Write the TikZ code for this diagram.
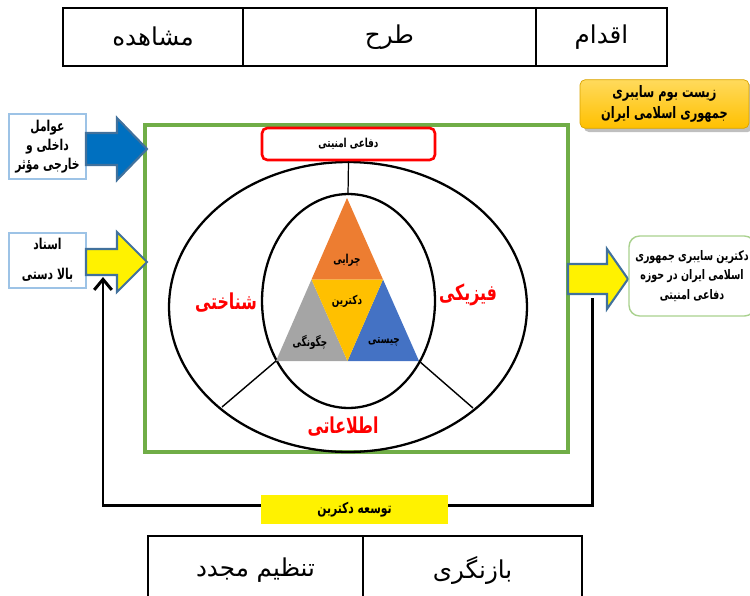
\documentclass[tikz,border=0pt]{standalone}
\usepackage{fontspec}
\usetikzlibrary{arrows.meta,shadows}
\TeXXeTstate=1
\newfontfamily\farsi[Script=Arabic]{DejaVu Sans}
\newfontfamily\farsinarrow[Script=Arabic, FakeStretch=0.72]{DejaVu Sans}
\newcommand{\fatxt}[1]{\beginR#1\endR}
\definecolor{frameGreen}{HTML}{70AD47}
\definecolor{softGreen}{HTML}{A9D18E}
\definecolor{arrowEdge}{HTML}{41719C}
\definecolor{arrowBlue}{HTML}{0070C0}
\definecolor{boxEdge}{HTML}{9DC3E6}
\definecolor{triOrange}{HTML}{ED7D31}
\definecolor{triGray}{HTML}{A5A5A5}
\definecolor{triBlue}{HTML}{4472C4}
\definecolor{triGold}{HTML}{FFC000}
\definecolor{goldTop}{HTML}{FFDA5C}
\definecolor{goldEdge}{HTML}{D9A300}
\tikzset{
    cell/.style={draw, line width=1.1pt, inner sep=0pt, outer sep=0pt,
            font=\farsi\fontsize{14}{16}\selectfont},
    sidebox/.style={draw=boxEdge, line width=0.6pt, fill=white, align=center,
            inner sep=0pt, font=\farsinarrow\bfseries\fontsize{8.5}{11}\selectfont},
    blockarrow/.style={draw=arrowEdge, line width=1.2pt, line join=miter},
    aspect/.style={text=red, font=\farsinarrow\bfseries\fontsize{12.5}{14}\selectfont},
    trilabel/.style={font=\farsinarrow\bfseries\fontsize{7}{8}\selectfont},
    feedback/.style={line width=1.7pt, -{Straight Barb[length=6pt,width=10pt]}},
}
\begin{document}
\begin{tikzpicture}[x=0.02cm, y=-0.02cm]
        \useasboundingbox (0,0) rectangle (750,595);
        %top table
        \node[cell, minimum width=3.6cm, minimum height=1.16cm] (observe) at (153,37) {\fatxt{مشاهده}};
        \node[cell, minimum width=5.86cm, minimum height=1.16cm] (plan) at (389.5,37) {\fatxt{طرح}};
        \node[cell, minimum width=2.62cm, minimum height=1.16cm] (act) at (601.5,37) {\fatxt{اقدام}};
        %bottom table
        \node[cell, minimum width=4.3cm, minimum height=1.36cm] (reset) at (255.5,570) {\fatxt{تنظیم مجدد}};
        \node[cell, minimum width=4.38cm, minimum height=1.36cm] (review) at (472.5,570) {\fatxt{بازنگری}};
        %green frame
        \node[draw=frameGreen, line width=2.3pt, minimum width=8.46cm, minimum height=6.54cm] (frame) at (356.5,288.5) {};
        %ellipses
        \draw[line width=1.3pt] (348,307) ellipse [x radius=3.58cm, y radius=2.9cm];
        \draw[line width=1.3pt] (348.5,301) ellipse [x radius=1.73cm, y radius=2.14cm];
        %draw triangle parts
        \coordinate (apex) at (347,198);
        \coordinate (lowleft) at (276,361);
        \coordinate (lowright) at (419,361);
        \coordinate (midleft) at (311.5,279.5);
        \coordinate (midright) at (383,279.5);
        \coordinate (midlow) at (347.5,361);
        \fill[triOrange] (apex) -- (midleft) -- (midright) -- cycle;
        \fill[triGray] (midleft) -- (lowleft) -- (midlow) -- cycle;
        \fill[triBlue] (midright) -- (midlow) -- (lowright) -- cycle;
        \fill[triGold] (midleft) -- (midright) -- (midlow) -- cycle;
        %dividing lines
        \coordinate (outerleft) at (222,407);
        \coordinate (outerright) at (473,408);
        \draw[line width=0.8pt] (lowleft) -- (outerleft);
        \draw[line width=0.8pt] (lowright) -- (outerright);
        %red box on top
        \node[draw=red, line width=1.5pt, rounded corners=3pt, fill=white, minimum width=3.46cm, minimum height=0.64cm,
            font=\farsinarrow\bfseries\fontsize{7}{8}\selectfont] (defence) at (348.5,144) {\fatxt{دفاعی امنیتی}};
        \coordinate (innertop) at (348,195);
        \draw[line width=0.7pt] (defence.south) -- (innertop);
        %label triangles
        \node[trilabel] (why) at (347,260) {\fatxt{چرایی}};
        \node[trilabel] (doctrine) at (347,301) {\fatxt{دکترین}};
        \node[trilabel] (how) at (310,342) {\fatxt{چگونگی}};
        \node[trilabel] (what) at (384,342) {\fatxt{چیستی}};
        %label rings
        \node[aspect] (cognitive) at (226,303) {\fatxt{شناختی}};
        \node[aspect] (physical) at (468,295) {\fatxt{فیزیکی}};
        \node[aspect] (information) at (343,427) {\fatxt{اطلاعاتی}};
        %left inputs
        \node[sidebox, minimum width=1.54cm, minimum height=1.3cm] (factors) at (47.5,146.5)
            {\fatxt{عوامل}\\\fatxt{داخلی و}\\\fatxt{خارجی مؤثر}};
        \node[sidebox, minimum width=1.54cm, minimum height=1.1cm, font=\farsinarrow\bfseries\fontsize{8.5}{17}\selectfont] (documents) at (47.5,260.5)
            {\fatxt{اسناد}\\\fatxt{بالا دستی}};
        \draw[blockarrow, fill=arrowBlue] (86,133) -- (117,133) -- (117,118) -- (147,149) -- (117,180) -- (117,165) -- (86,165) -- cycle;
        \draw[blockarrow, fill=yellow] (86,249) -- (117,249) -- (117,232) -- (147,262) -- (117,292) -- (117,275) -- (86,275) -- cycle;
        %right output
        \draw[blockarrow, fill=yellow] (568,264) -- (607,264) -- (607,249) -- (628,279) -- (607,309) -- (607,294) -- (568,294) -- cycle;
        \node[draw=softGreen, line width=0.8pt, rounded corners=6pt, fill=white, align=center, minimum width=2.52cm, minimum height=1.6cm,
            inner sep=1pt, font=\farsinarrow\bfseries\fontsize{7.5}{11}\selectfont] (result) at (692,276)
            {\fatxt{دکترین سایبری جمهوری}\\\fatxt{اسلامی ایران در حوزه}\\\fatxt{دفاعی امنیتی}};
        %ecosystem box
        \node[draw=goldEdge, line width=0.4pt, rounded corners=3pt, top color=goldTop, bottom color=triGold, drop shadow,
            align=center, minimum width=3.38cm, minimum height=0.96cm,
            font=\farsinarrow\bfseries\fontsize{9}{12}\selectfont] (ecosystem) at (664.5,104)
            {\fatxt{زیست بوم سایبری}\\\fatxt{جمهوری اسلامی ایران}};
        %feedback loop
        \coordinate (fbstart) at (592,298);
        \coordinate (fbcorner) at (103,505);
        \coordinate (fbend) at (103,277);
        \draw[feedback] (fbstart) |- (fbcorner) -- (fbend);
        \node[fill=yellow, minimum width=3.74cm, minimum height=0.58cm,
            font=\farsinarrow\bfseries\fontsize{8.5}{10}\selectfont] (develop) at (354.5,509.5) {\fatxt{توسعه دکترین}};
    \end{tikzpicture}
\end{document}
